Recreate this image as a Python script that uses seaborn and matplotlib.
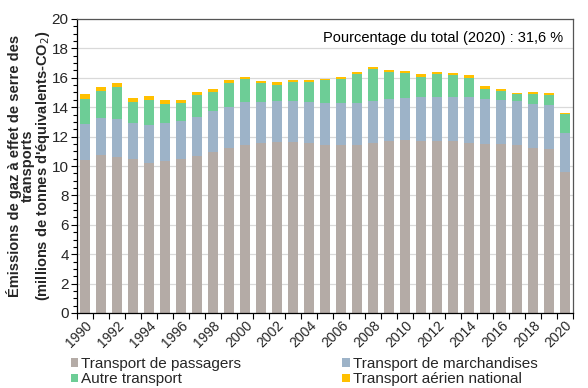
import numpy as np
import pandas as pd
import matplotlib
matplotlib.use("Agg")
import matplotlib.pyplot as plt
from matplotlib.patches import Rectangle
from matplotlib.ticker import MultipleLocator, FixedLocator
import seaborn as sns

years = list(range(1990, 2021))
passagers = [10.41, 10.73, 10.63, 10.48, 10.18, 10.34, 10.48, 10.70, 10.95, 11.25,
             11.45, 11.54, 11.61, 11.61, 11.54, 11.45, 11.41, 11.41, 11.54, 11.68,
             11.77, 11.70, 11.68, 11.68, 11.59, 11.52, 11.52, 11.45, 11.22, 11.16, 9.61]
marchandises = [2.47, 2.54, 2.55, 2.45, 2.61, 2.59, 2.60, 2.63, 2.77, 2.74,
                2.93, 2.84, 2.81, 2.81, 2.84, 2.84, 2.88, 2.88, 2.88, 2.88,
                2.88, 2.97, 2.99, 2.99, 3.08, 3.06, 2.99, 2.99, 3.02, 2.97, 2.63]
autre = [1.70, 1.83, 2.22, 1.45, 1.72, 1.31, 1.21, 1.48, 1.34, 1.66,
         1.54, 1.27, 1.11, 1.32, 1.36, 1.58, 1.65, 1.95, 2.18, 1.83,
         1.68, 1.41, 1.57, 1.50, 1.34, 0.68, 0.61, 0.43, 0.66, 0.68, 1.32]
aerien = [0.29, 0.25, 0.25, 0.22, 0.25, 0.25, 0.20, 0.22, 0.20, 0.20,
          0.16, 0.15, 0.18, 0.11, 0.11, 0.08, 0.14, 0.15, 0.13, 0.14,
          0.13, 0.18, 0.15, 0.16, 0.16, 0.16, 0.14, 0.10, 0.13, 0.16, 0.07]

series_names = ["Transport de passagers", "Transport de marchandises",
                "Autre transport", "Transport aérien national"]
colors = ["#b4aba6", "#9db3c8", "#6dcd96", "#ffc000"]

sns.set_theme(style="white")
plt.rcParams["font.family"] = ["Liberation Sans", "DejaVu Sans"]

fig = plt.figure(figsize=(5.88, 3.88), dpi=100)
ax = fig.add_axes([77 / 588, 1 - 313 / 388, (573 - 77) / 588, (313 - 19) / 388])

df = pd.DataFrame({"année": [str(y) for y in years]})
cum = np.cumsum(np.array([passagers, marchandises, autre, aerien]), axis=0)

# draw tallest layer first so lower layers overlay
for i in range(3, -1, -1):
    d = pd.DataFrame({"année": df["année"], "val": cum[i]})
    sns.barplot(data=d, x="année", y="val", color=colors[i], width=0.6,
                saturation=1, ax=ax, zorder=2, linewidth=0)

ax.set_xlim(-0.5, len(years) - 0.5)
ax.set_ylim(0, 20)
ax.set_xlabel("")
ax.set_ylabel("")

ax.yaxis.set_major_locator(MultipleLocator(2))
ax.yaxis.set_minor_locator(MultipleLocator(0.5))
ax.grid(axis="y", color="#d9d9d9", linewidth=0.9, zorder=0)
ax.set_axisbelow(True)

label_pos = [i for i, y in enumerate(years) if y % 2 == 0]
ax.xaxis.set_major_locator(FixedLocator(label_pos))
ax.set_xticklabels([str(years[i]) for i in label_pos], rotation=45,
                   ha="right", va="top", rotation_mode="anchor", fontsize=10)
ax.xaxis.set_minor_locator(FixedLocator(np.arange(-0.5, len(years), 1)))
ax.tick_params(axis="x", which="major", length=0, pad=4)
ax.tick_params(axis="x", which="minor", length=4, width=0.8, color="#000000",
               direction="out", bottom=True)
ax.tick_params(axis="y", which="major", length=4, width=0.8, color="#000000",
               direction="out", left=True, labelsize=11, pad=2)
ax.tick_params(axis="y", which="minor", length=3, width=0.8, color="#000000",
               direction="out", left=True)

for s in ["left", "bottom"]:
    ax.spines[s].set_color("#000000")
    ax.spines[s].set_linewidth(0.9)
for s in ["top", "right"]:
    ax.spines[s].set_color("#555555")
    ax.spines[s].set_linewidth(0.9)

ax.text(0.98, 0.935, "Pourcentage du total (2020) : 31,6 %", transform=ax.transAxes,
        ha="right", va="center", fontsize=10.5, color="#000000")

fig.text(29 / 588, 1 - 166 / 388,
         "Émissions de gaz à effet de serre des\ntransports\n(millions de tonnes d'équivalents-CO$_2$)",
         rotation=90, ha="center", va="center", fontsize=10.5, fontweight="bold",
         linespacing=0.92, multialignment="center")

handles = [Rectangle((0, 0), 1, 1, facecolor=c, edgecolor="none") for c in colors]
order = [0, 2, 1, 3]
fig.legend([handles[i] for i in order], [series_names[i] for i in order],
           loc="lower left", ncol=2, frameon=False,
           bbox_to_anchor=(69 / 588, 0.0),
           handlelength=0.5, handleheight=0.5, handletextpad=0.2,
           columnspacing=6.6, fontsize=11, labelspacing=0.12,
           borderaxespad=0.0, borderpad=0.1)

fig.savefig("out.png", dpi=100)
